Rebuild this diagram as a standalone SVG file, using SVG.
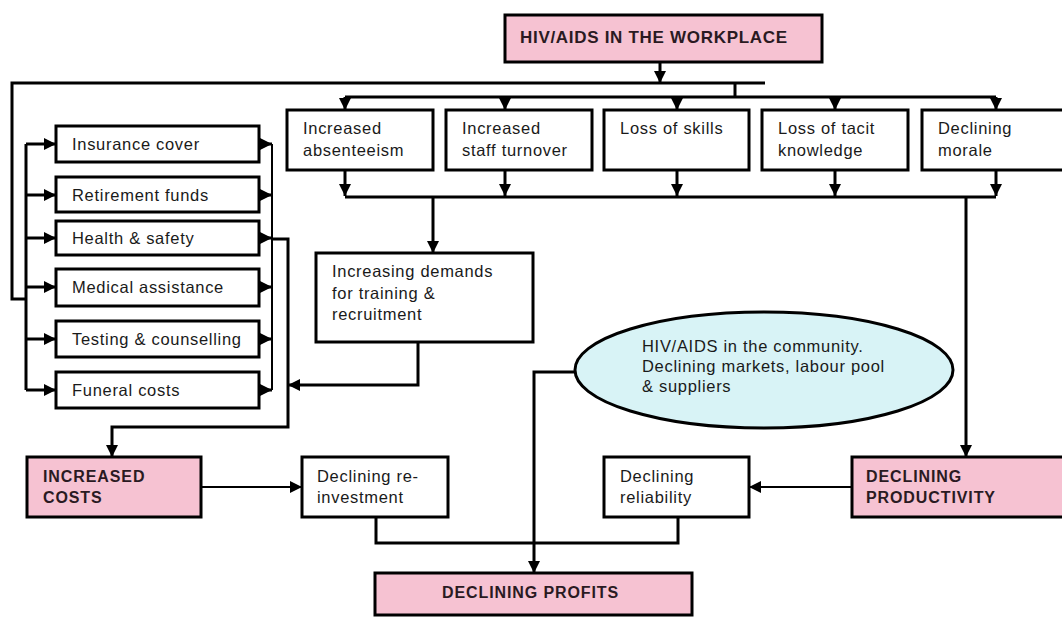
<svg xmlns="http://www.w3.org/2000/svg" width="1062" height="617" viewBox="0 0 1062 617">
<style>
.box{fill:#ffffff;stroke:#000;stroke-width:3}
.pink{fill:#f6c2d2;stroke:#000;stroke-width:3}
.ell{fill:#d8f3f6;stroke:#000;stroke-width:3}
.t{font-family:"Liberation Sans",Arial,sans-serif;font-size:16.5px;letter-spacing:0.7px;fill:#1a1a1a}
.b{font-family:"Liberation Sans",Arial,sans-serif;font-size:16px;font-weight:bold;letter-spacing:0.9px;fill:#2a1a22}
.title{font-size:17px;letter-spacing:0.7px}
.c{fill:none;stroke:#000;stroke-width:3}
.thin{fill:none;stroke:#000;stroke-width:2}
.a{marker-end:url(#ah)}
</style>
<defs>
<marker id="ah" markerUnits="userSpaceOnUse" markerWidth="13" markerHeight="13" refX="12" refY="6" orient="auto">
<path d="M0,0 L12,6 L0,12 z" fill="#000"/>
</marker>
</defs>
<rect width="1062" height="617" fill="#ffffff"/>

<g id="connectors">
<path class="c a" d="M660,62 L660,83"/>
<path class="c" d="M765,83 L12,83 L12,299 L26,299"/>
<path class="c" d="M735,83 L735,97"/>
<path class="c" d="M345,97 L996,97"/>
<path class="c a" d="M345,97 L345,110"/>
<path class="c a" d="M505,97 L505,110"/>
<path class="c a" d="M677,97 L677,110"/>
<path class="c a" d="M835,97 L835,110"/>
<path class="c a" d="M996,97 L996,110"/>
<path class="c a" d="M345,170 L345,196"/>
<path class="c a" d="M505,170 L505,196"/>
<path class="c a" d="M677,170 L677,196"/>
<path class="c a" d="M835,170 L835,196"/>
<path class="c a" d="M996,170 L996,196"/>
<path class="c" d="M345,197 L996,197"/>
<path class="c a" d="M433,197 L433,253"/>
<path class="c a" d="M966,197 L966,457"/>
<path class="c a" d="M418,342 L418,385 L288,385"/>
<path class="c" d="M26,144 L26,390"/>
<path class="c a" d="M26,144 L56,144"/>
<path class="c a" d="M26,195 L56,195"/>
<path class="c a" d="M26,238 L56,238"/>
<path class="c a" d="M26,287 L56,287"/>
<path class="c a" d="M26,339 L56,339"/>
<path class="c a" d="M26,390 L56,390"/>
<path class="thin" d="M272,144 L272,390"/>
<path class="c a" d="M257,144 L272,144"/>
<path class="c a" d="M257,195 L272,195"/>
<path class="c a" d="M257,238 L272,238"/>
<path class="c a" d="M257,287 L272,287"/>
<path class="c a" d="M257,339 L272,339"/>
<path class="c a" d="M257,390 L272,390"/>
<path class="c a" d="M272,239 L288,239 L288,427 L112,427 L112,457"/>
<path class="thin a" d="M201,487 L302,487"/>
<path class="thin a" d="M852,487 L749,487"/>
<path class="c" d="M376,517 L376,543 L678,543 L678,517"/>
<path class="c a" d="M575,372 L534,372 L534,573"/>
</g>

<g id="n-workplace">
<rect class="pink" x="505" y="15" width="317" height="47"/>
<text class="b title" x="520" y="43">HIV/AIDS IN THE WORKPLACE</text>
</g>
<g id="n-absenteeism">
<rect class="box" x="287" y="110" width="146" height="60"/>
<text class="t" x="303" y="134">Increased</text>
<text class="t" x="303" y="156">absenteeism</text>
</g>
<g id="n-turnover">
<rect class="box" x="446" y="110" width="146" height="60"/>
<text class="t" x="462" y="134">Increased</text>
<text class="t" x="462" y="156">staff turnover</text>
</g>
<g id="n-skills">
<rect class="box" x="604" y="110" width="145" height="60"/>
<text class="t" x="620" y="134">Loss of skills</text>
</g>
<g id="n-tacit">
<rect class="box" x="762" y="110" width="146" height="60"/>
<text class="t" x="778" y="134">Loss of tacit</text>
<text class="t" x="778" y="156">knowledge</text>
</g>
<g id="n-morale">
<rect class="box" x="922" y="110" width="150" height="60"/>
<text class="t" x="938" y="134">Declining</text>
<text class="t" x="938" y="156">morale</text>
</g>
<g id="n-insurance">
<rect class="box" x="56" y="126" width="203" height="36"/>
<text class="t" x="72" y="150">Insurance cover</text>
</g>
<g id="n-retirement">
<rect class="box" x="56" y="177" width="203" height="35"/>
<text class="t" x="72" y="201">Retirement funds</text>
</g>
<g id="n-health">
<rect class="box" x="56" y="221" width="203" height="34"/>
<text class="t" x="72" y="244">Health &amp; safety</text>
</g>
<g id="n-medical">
<rect class="box" x="56" y="269" width="203" height="37"/>
<text class="t" x="72" y="293">Medical assistance</text>
</g>
<g id="n-testing">
<rect class="box" x="56" y="321" width="203" height="36"/>
<text class="t" x="72" y="345">Testing &amp; counselling</text>
</g>
<g id="n-funeral">
<rect class="box" x="56" y="372" width="203" height="36"/>
<text class="t" x="72" y="396">Funeral costs</text>
</g>
<g id="n-training">
<rect class="box" x="316" y="253" width="217" height="89"/>
<text class="t" x="332" y="277">Increasing demands</text>
<text class="t" x="332" y="299">for training &amp;</text>
<text class="t" x="332" y="320">recruitment</text>
</g>
<g id="n-community">
<ellipse class="ell" cx="764" cy="370" rx="189" ry="58"/>
<text class="t" x="642" y="352">HIV/AIDS in the community.</text>
<text class="t" x="642" y="372">Declining markets, labour pool</text>
<text class="t" x="642" y="392">&amp; suppliers</text>
</g>
<g id="n-costs">
<rect class="pink" x="27" y="457" width="174" height="60"/>
<text class="b" x="43" y="482">INCREASED</text>
<text class="b" x="43" y="503">COSTS</text>
</g>
<g id="n-reinvestment">
<rect class="box" x="302" y="457" width="146" height="60"/>
<text class="t" x="317" y="482">Declining re-</text>
<text class="t" x="317" y="503">investment</text>
</g>
<g id="n-reliability">
<rect class="box" x="604" y="457" width="145" height="60"/>
<text class="t" x="620" y="482">Declining</text>
<text class="t" x="620" y="503">reliability</text>
</g>
<g id="n-productivity">
<rect class="pink" x="852" y="457" width="220" height="60"/>
<text class="b" x="866" y="482">DECLINING</text>
<text class="b" x="866" y="503">PRODUCTIVITY</text>
</g>
<g id="n-profits">
<rect class="pink" x="375" y="573" width="317" height="42"/>
<text class="b" x="442" y="598">DECLINING PROFITS</text>
</g>
</svg>
